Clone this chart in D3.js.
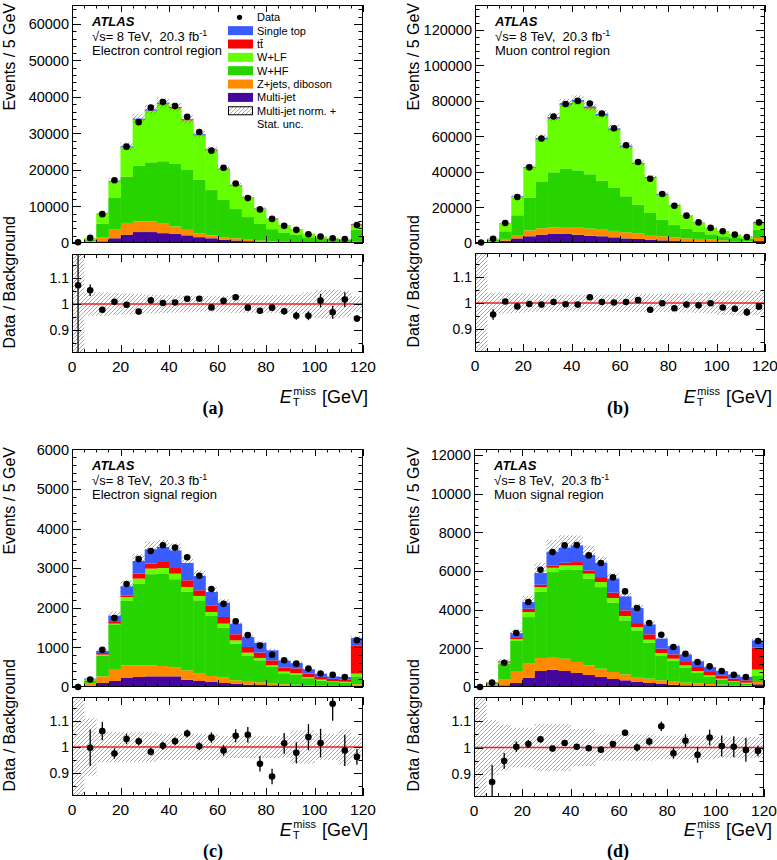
<!DOCTYPE html>
<html><head><meta charset="utf-8">
<script src="https://cdn.jsdelivr.net/npm/d3@7"></script>
<style>
body{margin:0;background:#fff}
svg{display:block}
text{font-family:"Liberation Sans",Arial,Helvetica,sans-serif;fill:#000}
</style>
</head><body>
<svg id="chart" width="777" height="860"></svg>
<script>
// ---------- categories ----------
const binLow = [0,5,10,15,20,25,30,35,40,45,50,55,60,65,70,75,80,85,90,95,100,105,110,115];
const binWidth = 5;
const xTickLabels = [0,20,40,60,80,100,120];
const ratioTickLabels = [0.9, 1, 1.1];
const sampleKeys = ["multijet","zjets","whf","wlf","ttbar","stop"];
const legendLabels = ["Data","Single top","tt\u0304","W+LF","W+HF","Z+jets, diboson","Multi-jet","Multi-jet norm. +"];
const regionLabels = ["Electron control region","Muon control region","Electron signal region","Muon signal region"];
const panelTags = ["(a)","(b)","(c)","(d)"];

// ---------- (a) electron control region ----------
const aData = [200,1400,7900,17200,26400,33100,37100,38600,37500,34600,30400,25300,20600,16300,12300,9200,6600,4700,3600,2400,1800,1300,1100,4900];
const aRatio = [1.072,1.053,0.978,1.009,0.997,0.971,1.014,1.004,1.006,1.02,1.02,0.987,1.012,1.026,0.986,0.974,0.986,0.972,0.955,0.955,1.013,0.968,1.017,0.944];
const aRatioErr = [0.5,0.022,0.006,0.005,0.004,0.004,0.004,0.004,0.004,0.004,0.004,0.005,0.005,0.006,0.007,0.008,0.01,0.012,0.015,0.017,0.026,0.025,0.028,0.013];
const aBand = [1,0.045,0.045,0.042,0.04,0.038,0.036,0.035,0.033,0.032,0.03,0.032,0.032,0.034,0.034,0.034,0.035,0.035,0.036,0.045,0.055,0.055,0.05,0.03];
const aMultijet = [30,200,450,1300,2300,3000,3000,2700,2500,2100,1600,1300,900,700,500,350,250,180,130,100,80,60,50,250];
const aZjets = [20,300,1150,2500,3200,2900,2900,2600,2000,1500,1100,800,700,600,400,300,200,150,120,90,70,60,50,300];
const aWHF = [50,300,3700,8700,12700,15300,16200,17100,17300,16400,14600,12400,10200,8000,6200,4650,3350,2570,1950,1410,1150,980,800,3050];
const aWLF = [83,510,2690,4360,8000,12530,14100,15660,15110,13585,12200,10880,8350,6415,5220,4025,2790,1855,1500,852,430,198,142,1290];
const aTtbar = [2,5,20,40,60,80,90,90,90,85,80,70,60,55,50,45,40,35,30,28,25,22,20,200];
const aStop = [5,15,70,150,220,280,300,300,280,250,220,180,150,120,100,80,60,50,40,30,25,20,18,100];

// ---------- (b) muon control region ----------
const bData = [300,2400,11300,25900,42600,58800,71200,78300,80000,78500,72900,64600,55000,45600,36200,27600,21000,15400,11600,8500,6600,4700,3400,11600];
const bRatio = [null,0.956,1.006,0.987,0.996,0.994,1.004,0.995,0.994,1.022,1.004,1.002,1.004,1.011,0.974,0.999,0.98,0.994,0.991,0.999,0.983,0.978,0.965,0.986];
const bRatioErr = [0,0.02,0.004,0.003,0.003,0.003,0.003,0.003,0.003,0.003,0.003,0.003,0.003,0.003,0.004,0.004,0.005,0.006,0.007,0.008,0.009,0.012,0.015,0.008];
const bBand = [1,0.04,0.04,0.038,0.035,0.034,0.033,0.033,0.033,0.033,0.033,0.033,0.034,0.034,0.035,0.035,0.036,0.036,0.038,0.04,0.045,0.048,0.048,0.045];
const bMultijet = [100,750,1300,2600,3800,4700,5100,5100,4700,4100,3800,3200,2600,2300,1900,1500,1100,900,750,560,380,380,190,1100];
const bZjets = [100,350,1000,1900,3300,3600,3700,3900,3900,4000,3700,3600,3400,3000,2600,2300,2100,1700,1550,1340,1120,720,710,1700];
const bWHF = [50,800,4300,11100,18300,26400,31000,32700,32300,30600,27600,24200,20300,16300,12400,9300,6900,5300,3900,3000,2300,1700,1400,4700];
const bWLF = [26,577,4493,10311,16831,23695,30206,35983,38553,37110,36560,32631,27751,22894,19756,14128,11019,7358,5320,3473,2804,1921,1158,3565];
const bTtbar = [1,8,30,70,120,170,200,220,230,230,220,200,180,160,140,120,100,80,65,50,40,35,30,500];
const bStop = [3,25,110,260,420,590,710,790,800,770,730,640,550,450,370,280,210,155,120,85,70,50,35,200];

// ---------- (c) electron signal region ----------
const cData = [0,190,940,1740,2600,3230,3435,3580,3520,3275,2810,2475,2100,1660,1310,1045,815,675,590,465,340,310,250,1180];
const cRatio = [null,0.997,1.061,0.975,1.031,1.022,0.982,1.005,1.022,1.052,1.003,1.036,0.987,1.043,1.047,0.936,0.887,1.014,0.978,1.038,1.015,1.166,0.987,0.962];
const cRatioErr = [0,0.07,0.035,0.02,0.02,0.015,0.015,0.015,0.015,0.015,0.015,0.02,0.02,0.025,0.03,0.03,0.03,0.04,0.04,0.05,0.055,0.065,0.06,0.03];
const cBand = [1,0.11,0.058,0.058,0.057,0.057,0.057,0.05,0.05,0.05,0.05,0.05,0.042,0.042,0.042,0.042,0.042,0.042,0.064,0.064,0.05,0.05,0.068,0.04];
const cMultijet = [5,34,101,152,227,253,269,269,269,185,152,126,101,84,59,51,42,34,25,17,15,12,12,34];
const cZjets = [5,51,168,303,320,295,278,261,219,236,185,152,135,84,93,67,42,34,30,25,17,15,13,34];
const cWHF = [5,84,514,1128,1626,2059,2302,2335,2234,1985,1852,1516,1264,926,632,556,421,280,250,180,130,100,90,202];
const cWLF = [2,25,34,17,100,130,140,140,140,120,110,100,100,84,84,59,42,42,40,30,25,17,17,67];
const cTtbar = [1,8,42,42,42,126,126,152,143,168,143,168,168,152,143,135,126,100,126,90,70,62,60,716];
const cStop = [1,8,51,160,227,320,362,379,446,438,362,337,360,269,253,248,253,176,132,106,78,60,61,185];

// ---------- (d) muon signal region ----------
const dData = [0,224,1258,2790,4394,6065,6978,7323,7340,6806,6410,5669,4945,4084,3308,2705,2068,1723,1292,1068,827,637,517,2378];
const dRatio = [null,0.869,0.949,1.003,1.013,1.031,0.996,1.017,1.003,0.997,0.992,1.013,1.056,1.0,1.023,1.081,0.978,1.026,0.972,1.038,1.006,1.003,0.991,0.987];
const dRatioErr = [0,0.065,0.03,0.02,0.015,0.01,0.01,0.01,0.01,0.01,0.01,0.012,0.012,0.015,0.015,0.018,0.02,0.025,0.03,0.03,0.04,0.04,0.045,0.02];
const dBand = [1,0.105,0.087,0.075,0.075,0.09,0.09,0.09,0.07,0.07,0.05,0.05,0.05,0.05,0.05,0.045,0.045,0.045,0.045,0.045,0.04,0.04,0.04,0.04];
const dMultijet = [5,34,86,207,482,827,896,827,724,620,517,414,345,258,207,155,120,86,69,52,52,34,34,138];
const dZjets = [10,103,293,620,724,672,655,637,569,500,431,362,310,258,224,190,155,138,120,103,69,69,52,120];
const dWHF = [15,100,827,1551,2412,3429,4393,4600,4773,4480,4221,3584,2791,2412,1861,1292,1068,793,534,362,241,155,104,345];
const dWLF = [5,10,60,100,258,241,224,224,224,258,258,241,224,172,155,121,121,103,103,86,69,52,34,293];
const dTtbar = [1,5,20,100,172,121,121,138,172,172,258,276,293,207,276,224,224,172,207,172,172,121,121,1137];
const dStop = [2,6,40,204,345,603,706,775,861,792,741,724,724,775,512,520,426,386,295,253,219,205,178,376];

// ---------- styles ----------
const sampleColors = {multijet:"#44069c", zjets:"#ff8a00", whf:"#27d400", wlf:"#66ff00", ttbar:"#ff0000", stop:"#3a5cff"};
const ratioDomain = [0.812, 1.192];

const layouts = [
  {x0:72, x1:363, mTop:5, mBot:243, rTop:254, rBot:353, ymax:65200, yMaj:10000, yMin:2000, yTitleX:15, xTitleRight:368, xTitleBase:403, tagX:213, tagBase:414},
  {x0:475, x1:765, mTop:5, mBot:243, rTop:253, rBot:352, ymax:134000, yMaj:20000, yMin:4000, yTitleX:419, xTitleRight:772, xTitleBase:403, tagX:618, tagBase:414},
  {x0:72, x1:363, mTop:449, mBot:687, rTop:697, rBot:796, ymax:6010, yMaj:1000, yMin:200, yTitleX:15, xTitleRight:368, xTitleBase:836, tagX:213, tagBase:857},
  {x0:474, x1:764, mTop:449, mBot:687, rTop:697, rBot:797, ymax:12310, yMaj:2000, yMin:400, yTitleX:419, xTitleRight:772, xTitleBase:836, tagX:618, tagBase:857}
];

const panels = [
  {data:aData, ratio:aRatio, err:aRatioErr, band:aBand, comps:[aMultijet,aZjets,aWHF,aWLF,aTtbar,aStop], legend:true},
  {data:bData, ratio:bRatio, err:bRatioErr, band:bBand, comps:[bMultijet,bZjets,bWHF,bWLF,bTtbar,bStop], legend:false},
  {data:cData, ratio:cRatio, err:cRatioErr, band:cBand, comps:[cMultijet,cZjets,cWHF,cWLF,cTtbar,cStop], legend:false},
  {data:dData, ratio:dRatio, err:dRatioErr, band:dBand, comps:[dMultijet,dZjets,dWHF,dWLF,dTtbar,dStop], legend:false}
];

const svg = d3.select("#chart");
const defs = svg.append("defs");
const pat = defs.append("pattern").attr("id","hatch").attr("patternUnits","userSpaceOnUse").attr("width",4).attr("height",4);
pat.append("path").attr("d","M-1,1 l2,-2 M0,4 l4,-4 M3,5 l2,-2").attr("stroke","#6e6e6e").attr("stroke-width",0.6);

function drawPanel(P, L, idx) {
  const g = svg.append("g");
  const x = d3.scaleLinear().domain([0,120]).range([L.x0, L.x1]);
  const y = d3.scaleLinear().domain([0, L.ymax]).range([L.mBot, L.mTop]);
  const yr = d3.scaleLinear().domain(ratioDomain).range([L.rBot, L.rTop]);

  const cm = "clipm"+idx, cr = "clipr"+idx;
  defs.append("clipPath").attr("id",cm).append("rect").attr("x",L.x0).attr("y",L.mTop).attr("width",L.x1-L.x0).attr("height",L.mBot-L.mTop);
  defs.append("clipPath").attr("id",cr).append("rect").attr("x",L.x0).attr("y",L.rTop).attr("width",L.x1-L.x0).attr("height",L.rBot-L.rTop);

  // stacked histogram
  const rows = binLow.map((b,i) => {
    const r = {bin:b};
    sampleKeys.forEach((k,j) => r[k] = P.comps[j][i]);
    return r;
  });
  const series = d3.stack().keys(sampleKeys)(rows);
  const mg = g.append("g").attr("clip-path",`url(#${cm})`);
  series.forEach(s => {
    mg.append("g").selectAll("rect").data(s).join("rect")
      .attr("x", d => x(d.data.bin))
      .attr("width", d => x(d.data.bin+binWidth)-x(d.data.bin)+0.4)
      .attr("y", d => y(d[1]))
      .attr("height", d => Math.max(0, y(d[0])-y(d[1])))
      .attr("fill", sampleColors[s.key]);
  });
  const totals = rows.map(r => d3.sum(sampleKeys, k => r[k]));
  // uncertainty hatch on total
  mg.append("g").selectAll("rect").data(binLow).join("rect")
    .attr("x", b => x(b)).attr("width", b => x(b+binWidth)-x(b))
    .attr("y", (b,i) => y(totals[i]*(1+Math.min(P.band[i],0.5))))
    .attr("height", (b,i) => y(totals[i]*(1-Math.min(P.band[i],0.5))) - y(totals[i]*(1+Math.min(P.band[i],0.5))))
    .attr("fill","url(#hatch)");
  // data points
  g.append("g").selectAll("circle").data(binLow).join("circle")
    .attr("cx", b => x(b+binWidth/2)).attr("cy", (b,i) => y(P.data[i]))
    .attr("r", 3.3).attr("fill","#000");

  // ratio
  const rg = g.append("g").attr("clip-path",`url(#${cr})`);
  rg.append("g").selectAll("rect").data(binLow).join("rect")
    .attr("x", b => x(b)).attr("width", b => x(b+binWidth)-x(b)+0.3)
    .attr("y", (b,i) => yr(1+P.band[i]))
    .attr("height", (b,i) => yr(1-P.band[i]) - yr(1+P.band[i]))
    .attr("fill","url(#hatch)");
  rg.append("line").attr("x1",L.x0).attr("x2",L.x1).attr("y1",yr(1)).attr("y2",yr(1))
    .attr("stroke","#e8202a").attr("stroke-width",1.4);
  const pts = binLow.map((b,i)=>({b, r:P.ratio[i], e:P.err[i]})).filter(d => d.r !== null);
  rg.append("g").selectAll("line").data(pts).join("line")
    .attr("x1", d => x(d.b+binWidth/2)).attr("x2", d => x(d.b+binWidth/2))
    .attr("y1", d => yr(d.r-d.e)).attr("y2", d => yr(d.r+d.e))
    .attr("stroke","#000").attr("stroke-width",1.3);
  rg.append("g").selectAll("circle").data(pts).join("circle")
    .attr("cx", d => x(d.b+binWidth/2)).attr("cy", d => yr(d.r)).attr("r",3.3).attr("fill","#000");

  // frames
  [[L.mTop,L.mBot],[L.rTop,L.rBot]].forEach(([t,b]) => {
    g.append("rect").attr("x",L.x0+0.5).attr("y",t+0.5).attr("width",L.x1-L.x0-1).attr("height",b-t-1)
      .attr("fill","none").attr("stroke","#000").attr("stroke-width",1);
  });
  const tk = g.append("g").attr("stroke","#000").attr("stroke-width",1);
  // x ticks
  d3.range(0,121,5).forEach(v => {
    const major = v % 20 === 0;
    const xp = Math.round(x(v))+0.5;
    [[L.mTop,L.mBot, major?7:3.5],[L.rTop,L.rBot, major?8:4]].forEach(([t,b,len]) => {
      tk.append("line").attr("x1",xp).attr("x2",xp).attr("y1",b).attr("y2",b-len);
      tk.append("line").attr("x1",xp).attr("x2",xp).attr("y1",t).attr("y2",t+len);
    });
  });
  // main y ticks
  d3.range(0, L.ymax+1, L.yMin).forEach(v => {
    const major = v % L.yMaj === 0;
    const yp = Math.round(y(v))+0.5;
    const len = major ? 9 : 4.5;
    tk.append("line").attr("x1",L.x0).attr("x2",L.x0+len).attr("y1",yp).attr("y2",yp);
    tk.append("line").attr("x1",L.x1).attr("x2",L.x1-len).attr("y1",yp).attr("y2",yp);
  });
  // ratio y ticks
  [0.85,0.9,0.95,1,1.05,1.1,1.15].forEach(v => {
    const major = ratioTickLabels.some(t => Math.abs(t-v) < 1e-6);
    const yp = Math.round(yr(v))+0.5;
    const len = major ? 9 : 4.5;
    tk.append("line").attr("x1",L.x0).attr("x2",L.x0+len).attr("y1",yp).attr("y2",yp);
    tk.append("line").attr("x1",L.x1).attr("x2",L.x1-len).attr("y1",yp).attr("y2",yp);
  });

  // tick labels
  d3.range(0, L.ymax+1, L.yMaj).forEach(v => {
    g.append("text").attr("x",L.x0-3).attr("y",y(v)).attr("dy","0.36em").attr("text-anchor","end")
      .style("font-size","14.5px").text(v);
  });
  ratioTickLabels.forEach(v => {
    g.append("text").attr("x",L.x0-3).attr("y",yr(v)).attr("dy","0.36em").attr("text-anchor","end")
      .style("font-size","14px").text(v);
  });
  xTickLabels.forEach(v => {
    g.append("text").attr("x",x(v)).attr("y",L.rBot+18.5).attr("text-anchor","middle")
      .style("font-size","15.5px").text(v);
  });

  // axis titles
  g.append("text").attr("transform",`translate(${L.yTitleX},${L.mTop-2}) rotate(-90)`).attr("text-anchor","end")
    .style("font-size","16px").text("Events / 5 GeV");
  g.append("text").attr("transform",`translate(${L.yTitleX},${L.rTop-38}) rotate(-90)`).attr("text-anchor","end")
    .style("font-size","16px").text("Data / Background");

  const xt = g.append("g");
  const e = xt.append("text").attr("x",0).attr("y",0).style("font-size","18px").style("font-style","italic").text("E");
  const wE = e.node().getComputedTextLength();
  const sub = xt.append("text").attr("x",wE+1).attr("y",3).style("font-size","11.5px").text("T");
  const sup = xt.append("text").attr("x",wE+1.5).attr("y",-8.5).style("font-size","11px").text("miss");
  const w2 = Math.max(sub.node().getComputedTextLength(), sup.node().getComputedTextLength()+0.5);
  const rest = xt.append("text").attr("x",wE+1+w2+6).attr("y",0).style("font-size","18px").text("[GeV]");
  const tw = wE+1+w2+6+rest.node().getComputedTextLength();
  xt.attr("transform",`translate(${L.xTitleRight-tw},${L.xTitleBase})`);

  g.append("text").attr("x",L.tagX).attr("y",L.tagBase).attr("text-anchor","middle")
    .style("font-family",'"Liberation Serif","Times New Roman",serif').style("font-weight","bold").style("font-size","18px")
    .text(panelTags[idx]);

  // ATLAS label
  const lx = L.x0 + 20;
  g.append("text").attr("x",lx).attr("y",L.mTop+20.5).style("font-size","13px").style("font-weight","bold").style("font-style","italic").text("ATLAS");
  const s = g.append("text").attr("x",lx).attr("y",L.mTop+35.5).style("font-size","13px").style("white-space","pre");
  s.append("tspan").text("\u221As= 8 TeV,  20.3 fb");
  s.append("tspan").attr("dy",-5).style("font-size","9px").text("-1");
  g.append("text").attr("x",lx).attr("y",L.mTop+49.5).style("font-size","13px").text(regionLabels[idx]);

  if (P.legend) {
    const bx = 228, bw = 25, bh = 9, tx = 257;
    const rowY = i => 17.3 + 13.35*i;
    const lg = g.append("g");
    lg.append("circle").attr("cx",bx+bw/2-1).attr("cy",rowY(0)).attr("r",2.6).attr("fill","#000");
    const legKeys = ["stop","ttbar","wlf","whf","zjets","multijet"];
    legKeys.forEach((k,j) => {
      lg.append("rect").attr("x",bx).attr("y",rowY(j+1)-bh/2).attr("width",bw).attr("height",bh).attr("fill",sampleColors[k]);
    });
    lg.append("rect").attr("x",bx+0.5).attr("y",rowY(7)-bh/2+0.5).attr("width",bw-1).attr("height",bh-1)
      .attr("fill","url(#hatch)").attr("stroke","#000").attr("stroke-width",1);
    legendLabels.forEach((t,j) => {
      lg.append("text").attr("x",tx).attr("y",rowY(j)).attr("dy","0.36em").style("font-size","11px").text(t);
    });
    lg.append("text").attr("x",tx).attr("y",124).attr("dy","0.36em").style("font-size","11px").text("Stat. unc.");
  }
}

panels.forEach((P,i) => drawPanel(P, layouts[i], i));
</script>
</body></html>
